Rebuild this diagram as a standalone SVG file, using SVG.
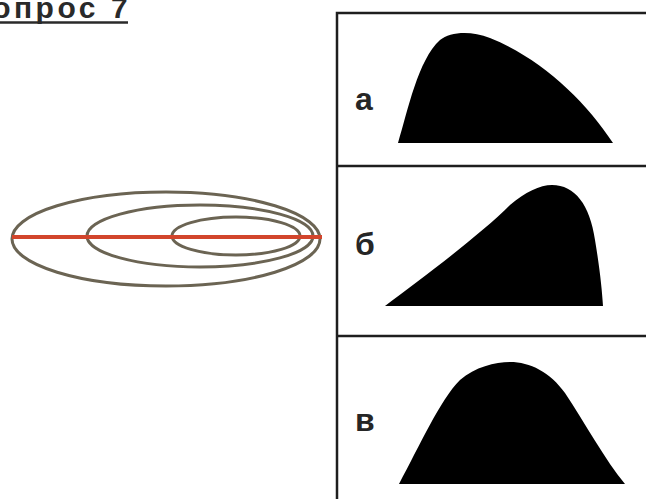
<svg xmlns="http://www.w3.org/2000/svg" width="646" height="499" viewBox="0 0 646 499">
  <style>
    .title { font-family: "Liberation Sans", Arial, sans-serif; font-weight: bold; font-size: 30px; fill: #2a2a2a; letter-spacing: 3.5px; }
    .lbl { font-family: "Liberation Sans", Arial, sans-serif; font-weight: bold; font-size: 32px; fill: #262626; }
    .oval { fill: none; stroke: #6b6453; stroke-width: 3; }
    .frame { fill: none; stroke: #1e1e1e; stroke-width: 2.5; }
    .curve { fill: #000; }
  </style>
  <rect width="646" height="499" fill="#ffffff"/>
  <g id="title">
    <text class="title" x="-33" y="18">Вопрос<tspan x="111">7</tspan></text>
    <line x1="0" y1="22.5" x2="128" y2="22.5" stroke="#2a2a2a" stroke-width="2.5"/>
  </g>
  <g id="ovals">
    <ellipse class="oval" cx="166" cy="239" rx="154" ry="47"/>
    <ellipse class="oval" cx="200" cy="236" rx="113" ry="31"/>
    <ellipse class="oval" cx="236" cy="236" rx="64" ry="19"/>
  </g>
  <g id="connectors">
    <line x1="12" y1="237" x2="322" y2="237" stroke="#d2452c" stroke-width="4"/>
  </g>
  <g id="frames">
    <rect class="frame" x="337" y="13" width="320" height="500"/>
    <line class="frame" x1="337" y1="166" x2="646" y2="166"/>
    <line class="frame" x1="337" y1="336" x2="646" y2="336"/>
  </g>
  <g id="panel-a">
    <text class="lbl" x="355" y="110">а</text>
    <path class="curve" d="M398,143 C408,110 418,60 440,40 C450,32 470,30 490,38 C540,58 585,100 613,143 Z"/>
  </g>
  <g id="panel-b">
    <text class="lbl" x="355" y="255">б</text>
    <path class="curve" d="M385,306 C420,280 480,235 510,205 C525,192 540,185 552,185 C575,185 590,205 595,240 C600,270 602,290 603,306 Z"/>
  </g>
  <g id="panel-v">
    <text class="lbl" x="355" y="431">в</text>
    <path class="curve" d="M399,484 C420,445 440,400 460,380 C475,367 495,362 510,362 C530,362 550,372 565,393 C585,423 605,460 625,484 Z"/>
  </g>
</svg>
